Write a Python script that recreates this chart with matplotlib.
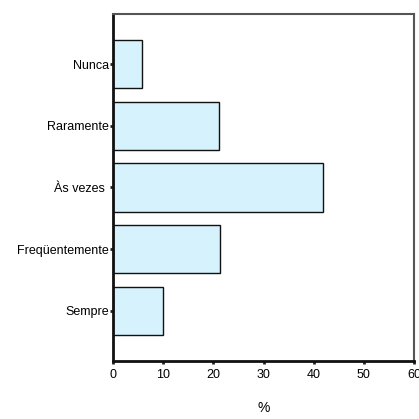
import matplotlib
matplotlib.use("Agg")
import matplotlib.pyplot as plt

categories = ["Sempre", "Freqüentemente", "Às vezes ", "Raramente", "Nunca"]
values = [10.0, 21.3, 41.9, 21.05, 5.7]
xticks = [0, 10, 20, 30, 40, 50, 60]

plt.rcParams['font.family'] = ['Liberation Sans', 'DejaVu Sans']

fig = plt.figure(figsize=(4.19, 4.19), dpi=100)
ax = fig.add_axes([113/419, 1-361/419, (414-113)/419, (361-14)/419])

ypos = list(range(len(categories)))
ax.barh(ypos, values, height=0.78, color="#d6f2fc", edgecolor="#111111", linewidth=1.0)

ax.set_xlim(0, 60)
ax.set_ylim(-0.81, 4.81)
ax.set_yticks(ypos)
ax.set_yticklabels(categories)
ax.set_xticks(xticks)
ax.set_xticklabels([str(t) for t in xticks])
ax.set_xlabel("%", fontsize=10, labelpad=14)

ax.tick_params(axis='both', labelsize=9, length=2, width=2, color="#222222")
ax.tick_params(axis='x', pad=4)
ax.tick_params(axis='y', pad=1)
for side in ["left", "bottom"]:
    ax.spines[side].set_linewidth(2)
    ax.spines[side].set_color("#111111")
for side in ["top", "right"]:
    ax.spines[side].set_linewidth(1.5)
    ax.spines[side].set_color("#555555")

fig.savefig("out.png", dpi=100)
